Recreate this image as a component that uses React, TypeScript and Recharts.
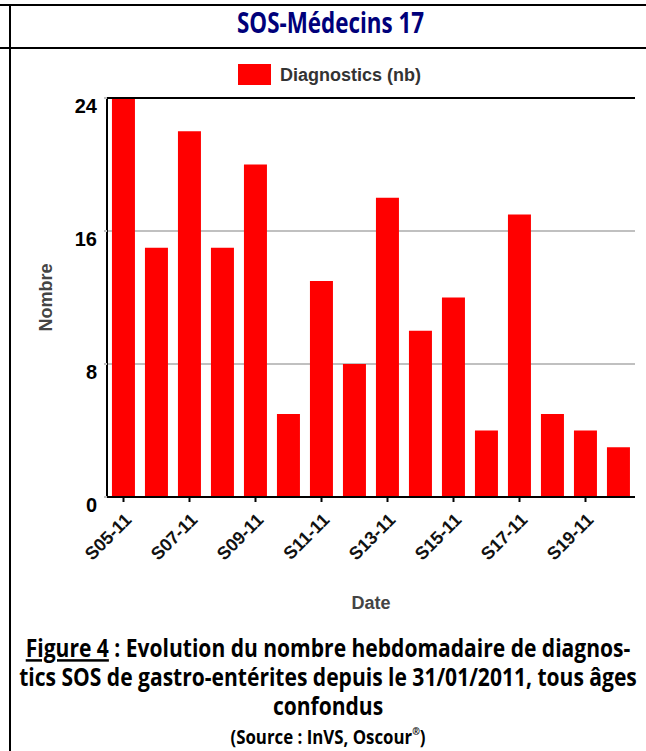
import { BarChart, Bar, XAxis, YAxis, CartesianGrid, ReferenceLine, Label } from "recharts";

const weeks = ["S05-11", "S06-11", "S07-11", "S08-11", "S09-11", "S10-11", "S11-11", "S12-11", "S13-11", "S14-11", "S15-11", "S16-11", "S17-11", "S18-11", "S19-11", "S20-11"];
const diagnostics = [24, 15, 22, 15, 20, 5, 13, 8, 18, 10, 12, 4, 17, 5, 4, 3];
const yTicks = [0, 8, 16, 24];

const rows = weeks.map((w, i) => ({ week: w, diag: diagnostics[i] }));

const sans = '"Liberation Sans", Arial, sans-serif';
const cond = '"Open Sans", "Noto Sans", sans-serif';

const line2 = "tics SOS de gastro-entérites depuis le 31/01/2011, tous âges";

// la police du document est étroite : on resserre toute la légende du même facteur
function captionScale() {
  try {
    const ctx = document.createElement("canvas").getContext("2d");
    if (!ctx) return 0.75;
    ctx.font = `700 25px ${cond}`;
    return 618 / ctx.measureText(line2).width;
  } catch {
    return 0.75;
  }
}

function WeekTick({ x, y, payload }: any) {
  return (
    <g transform={`translate(${x + 9},${y + 17})`}>
      <text transform="rotate(-45)" textAnchor="end" fontFamily={sans} fontWeight={700} fontSize={18} fill="#111">
        {payload.value}
      </text>
    </g>
  );
}

function CountTick({ x, y, payload }: any) {
  return (
    <text x={x} y={y + 15} textAnchor="end" fontFamily={sans} fontWeight={700} fontSize={20} fill="#000">
      {payload.value}
    </text>
  );
}

export default function App() {
  const sx = captionScale();
  return (
    <div style={{ position: "absolute", left: 0, top: 0, width: 646, height: 751, background: "#fff", overflow: "hidden" }}>
      <div style={{ position: "absolute", left: 0, top: 0 }}>
        <BarChart width={646} height={751} data={rows} margin={{ top: 98, right: 11, left: 51, bottom: 164 }} barCategoryGap="15%">
          <CartesianGrid vertical={false} stroke="#c0c0c0" strokeWidth={2} />
          <XAxis
            dataKey="week"
            interval={1}
            height={90}
            tick={<WeekTick />}
            tickSize={5}
            tickLine={{ stroke: "#000", strokeWidth: 2 }}
            axisLine={{ stroke: "#000", strokeWidth: 2 }}
          >
            <Label
              content={({ viewBox }: any) => (
                <text x={viewBox.x + viewBox.width / 2} y={609} textAnchor="middle" fontFamily={sans} fontWeight={700} fontSize={18} fill="#444">
                  Date
                </text>
              )}
            />
          </XAxis>
          <YAxis
            domain={[0, 24]}
            ticks={yTicks}
            width={56}
            tickSize={3}
            tickMargin={7}
            tick={<CountTick />}
            tickLine={{ stroke: "#c0c0c0", strokeWidth: 2 }}
            axisLine={{ stroke: "#000", strokeWidth: 2 }}
          >
            <Label
              content={({ viewBox }: any) => {
                const cy = viewBox.y + viewBox.height / 2;
                return (
                  <text x={52} y={cy} transform={`rotate(-90, 52, ${cy})`} textAnchor="middle" fontFamily={sans} fontWeight={700} fontSize={18} fill="#444">
                    Nombre
                  </text>
                );
              }}
            />
          </YAxis>
          <ReferenceLine y={24} stroke="#000" strokeWidth={2} />
          <Bar dataKey="diag" fill="#ff0000" isAnimationActive={false} />
        </BarChart>
      </div>

      {/* cadre, titre, légende et légende de figure */}
      <svg width={646} height={751} style={{ position: "absolute", left: 0, top: 0, pointerEvents: "none" }}>
        <rect x={0} y={4} width={646} height={2} fill="#000" />
        <rect x={0} y={47} width={646} height={2} fill="#000" />
        <rect x={9} y={4} width={2} height={747} fill="#000" />
        <text x={237} y={33} textLength={187} lengthAdjust="spacingAndGlyphs" fontFamily={cond} fontWeight={700} fontSize={28} fill="#00007a">
          SOS-Médecins 17
        </text>

        <rect x={238} y={64} width={33} height={21} fill="#ff0000" />
        <text x={280} y={81} textLength={141} lengthAdjust="spacingAndGlyphs" fontFamily={sans} fontWeight={700} fontSize={18} fill="#333">
          Diagnostics (nb)
        </text>

        <g transform={`translate(328 0) scale(${sx} 1)`} fontFamily={cond} fontWeight={700} fill="#000" textAnchor="middle">
          <text x={0} y={657} fontSize={25}>
            <tspan style={{ textDecoration: "underline" }}>Figure 4</tspan> : Evolution du nombre hebdomadaire de diagnos-
          </text>
          <text x={0} y={686} fontSize={25}>
            {line2}
          </text>
          <text x={0} y={715} fontSize={25}>
            confondus
          </text>
          <text x={0} y={744} fontSize={20}>
            (Source : InVS, Oscour
            <tspan fontSize={11} dy={-9}>®</tspan>
            <tspan dy={9}>)</tspan>
          </text>
        </g>
      </svg>
    </div>
  );
}
